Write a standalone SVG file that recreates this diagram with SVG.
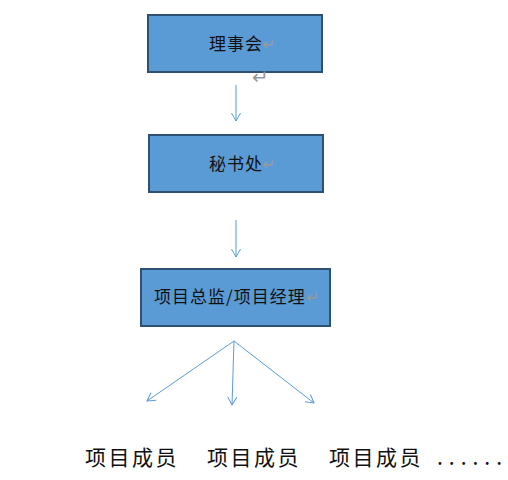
<svg xmlns="http://www.w3.org/2000/svg" width="508" height="480" viewBox="0 0 508 480">
<defs>
<style>
.box{fill:#5B9BD5;stroke:#2E5172;stroke-width:2}
.lbl{font-family:"Noto Sans CJK SC","Liberation Serif",sans-serif;font-size:17px;fill:#111;letter-spacing:1px}
.mk{font-family:"DejaVu Sans",sans-serif;font-size:16px;fill:#999}
.con{stroke:#5B9BD5;stroke-width:1;fill:none}
.mem{font-family:"Noto Sans CJK SC","Liberation Serif",sans-serif;font-size:21px;fill:#111;letter-spacing:2.5px}
</style>
<marker id="arr" markerUnits="userSpaceOnUse" markerWidth="12" markerHeight="12" refX="9" refY="5" orient="auto">
<path d="M1,0.5 L9,5 L1,9.5" stroke="#5B9BD5" stroke-width="1" fill="none"/>
</marker>
</defs>
<g id="n1">
<rect class="box" x="148" y="15" width="174" height="57"/>
<text class="lbl" x="209" y="50">理事会</text>
<text class="mk" x="262" y="50">↵</text>
<text class="mk" x="252" y="84" style="font-size:20px">↵</text>
</g>
<g id="n2">
<rect class="box" x="149" y="135" width="174" height="57"/>
<text class="lbl" x="209" y="170">秘书处</text>
<text class="mk" x="262" y="170">↵</text>
</g>
<g id="n3">
<rect class="box" x="141" y="269" width="189" height="57"/>
<text class="lbl" x="154" y="303">项目总监/项目经理</text>
<text class="mk" x="306" y="303">↵</text>
</g>
<g id="connectors">
<line class="con" x1="236" y1="85" x2="236" y2="121" marker-end="url(#arr)"/>
<line class="con" x1="236" y1="220" x2="236" y2="257" marker-end="url(#arr)"/>
<line class="con" x1="234" y1="341" x2="147" y2="401" marker-end="url(#arr)"/>
<line class="con" x1="234" y1="341" x2="232" y2="405" marker-end="url(#arr)"/>
<line class="con" x1="234" y1="341" x2="314" y2="403" marker-end="url(#arr)"/>
</g>
<g id="members">
<text class="mem" x="85" y="465">项目成员</text>
<text class="mem" x="207" y="465">项目成员</text>
<text class="mem" x="329" y="465">项目成员</text>
<text class="mem" x="437" y="465" style="letter-spacing:6px">......</text>
</g>
</svg>
